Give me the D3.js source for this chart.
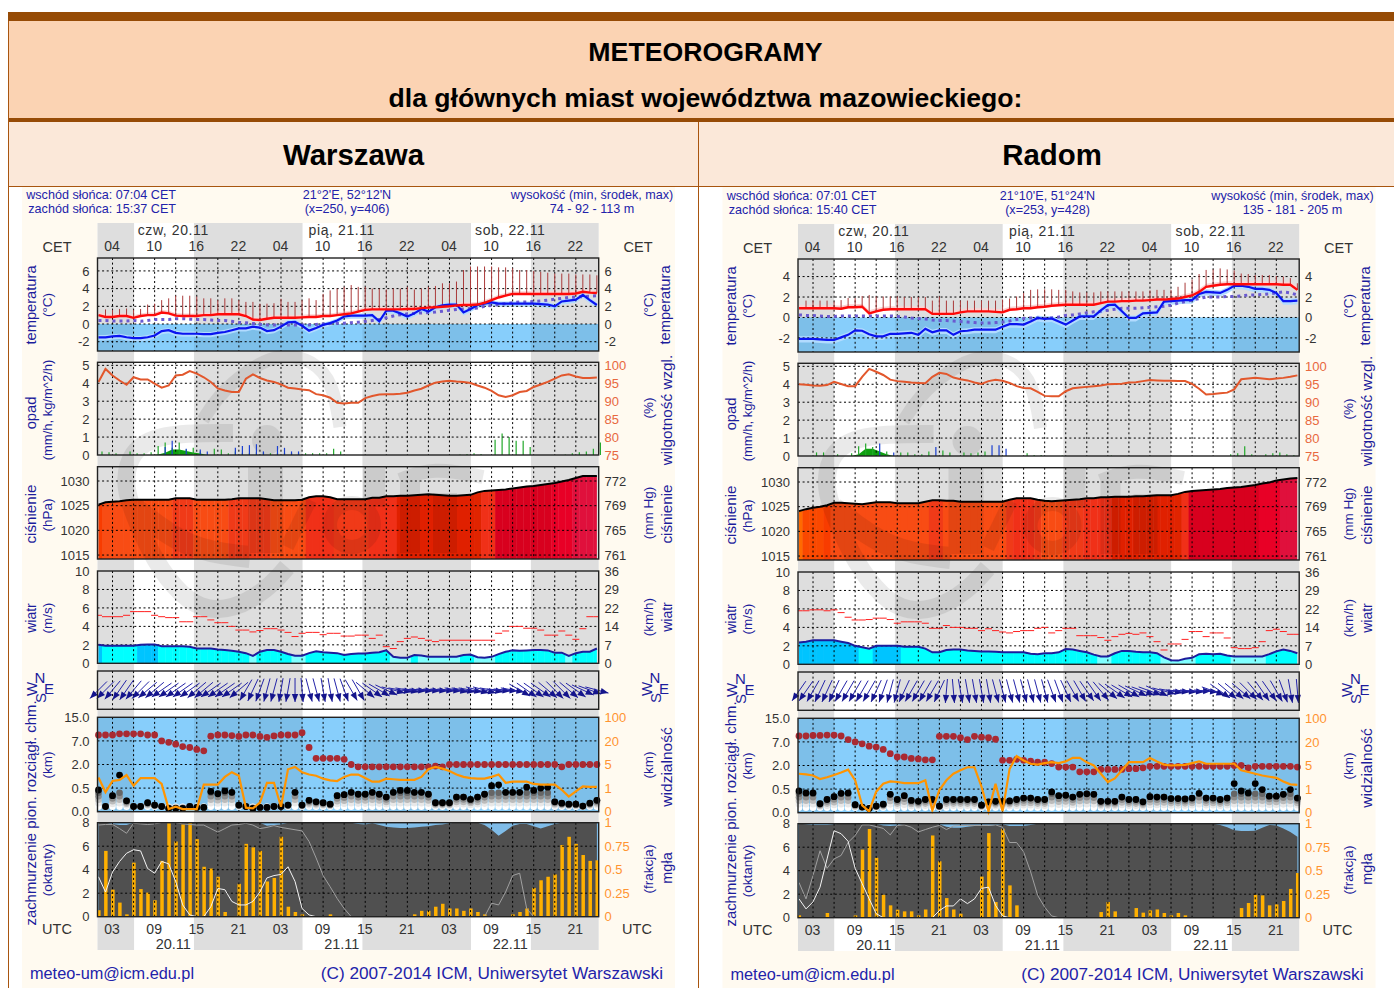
<!DOCTYPE html>
<html>
<head>
<meta charset="utf-8">
<title>Meteorogramy</title>
<script src="https://cdn.jsdelivr.net/npm/d3@7"></script>
<style>
html, body { margin: 0; padding: 0; background: #fff; overflow: hidden; }
svg { display: block; font-family: "Liberation Sans", Arial, sans-serif; }
</style>
</head>
<body>
<svg id="chart" width="1394" height="988"></svg>
<script>
// labels shared by both meteograms
const cetLabels = ['04', '10', '16', '22', '04', '10', '16', '22', '04', '10', '16', '22'];
const utcLabels = ['03', '09', '15', '21', '03', '09', '15', '21', '03', '09', '15', '21'];
const labelHours = [2, 8, 14, 20, 26, 32, 38, 44, 50, 56, 62, 68];
const gridHours = d3.range(2, 71, 3);
const dayLabels = ['czw, 20.11', 'pią, 21.11', 'sob, 22.11'];
const dateLabels = ['20.11', '21.11', '22.11'];
const dayHours = [10.8, 34.8, 58.8];
const rainTicks = [0, 1, 2, 3, 4, 5];
const rhLabels = [75, 80, 85, 90, 95, 100];
const pressTicks = [1015, 1020, 1025, 1030];
const mmHgLabels = [761, 765, 769, 772];
const windTicks = [0, 2, 4, 6, 8, 10];
const kmhLabels = [0, 7, 14, 22, 29, 36];
const ceilLevels = [0, 0.5, 2, 7, 15];
const visLevels = [0, 1, 5, 20, 100];
const cloudTicks = [0, 2, 4, 6, 8];
const fogLabels = ['0', '0.25', '0.5', '0.75', '1'];

// Warszawa, hourly values from 01 UTC 20.11
const warTemp = [1, .8, .8, .9, .9, .7, .9, 1, 1, 1.3, 1.2, .95,
    .9, .9, .9, 1, 1, 1.1, 1.1, 1.1, 1.1, .9, .5, .45,
    .6, .7, .7, .7, .7, .75, .8, .8, .9, .9, 1, 1.1,
    1.2, 1.4, 1.6, 1.65, 1.65, 1.65, 1.65, 1.65, 1.7, 1.7, 1.8, 1.85,
    1.9, 1.95, 2, 2.1, 2.15, 2.15, 2.2, 2.4, 2.7, 3, 3.2, 3.4,
    3.4, 3.4, 3.4, 3.4, 3.4, 3.4, 3.4, 3.4, 3.45, 3.65, 3.55, 3.5];
const warDew = [-1.5, -1.5, -1.4, -1.35, -1.5, -1.6, -1.6, -1.5, -1.3, -.8, -.7, -1,
    -1.1, -1.1, -1.1, -1.15, -1.15, -1, -.9, -.7, -.5, -.5, -.3, -.4,
    -.8, -.7, -.3, .2, .25, -.2, -.75, -.45, -.1, .1, .4, .85,
    .95, .95, .95, 1, .3, 1.5, 1.5, 1.2, .85, 1.2, 1.7, 1.4,
    1.9, 2.1, 2.2, 2.2, 1.3, 1.7, 2.15, 2.3, 2.45, 2.3, 2.3, 2.3,
    2.3, 2.3, 2.3, 2.25, 2.2, 2, 2.55, 2.65, 2.75, 3.3, 2.7, 2.15];
const warWet = [.4, .4, .35, .35, .35, .4, .3, .4, .5, .5, .5, .6,
    .6, .55, .5, .5, .45, .4, .4, .3, .2, .15, .05, -.05,
    -.1, -.1, -.1, -.1, -.1, -.1, -.1, -.05, 0, .05, .1, .1,
    .15, .2, .3, .4, .5, .7, .9, 1.05, 1.15, 1.2, 1.25, 1.3,
    1.35, 1.45, 1.55, 1.65, 1.7, 1.75, 1.8, 2, 2.1, 2.2, 2.3, 2.4,
    2.5, 2.5, 2.55, 2.6, 2.7, 2.8, 2.9, 3, 3.05, 3.1, 3.15, 3.2];
const warWhisker = [1, 1.65, 1.6, 1.7, 1.75, 1.6, 1.7, 2.2, 2.3, 2.7, 2.9, 3.2,
    3.2, 3.2, 3.1, 2.9, 2.9, 2.7, 2.9, 2.9, 2.7, 2.5, 2.5, 2.3,
    2.3, 2.35, 2.85, 2.5, 2.5, 2.7, 2.9, 2.7, 3.4, 3.8, 4, 4.2,
    4.4, 4.2, 4.2, 4, 4, 3.9, 4, 4, 4.2, 3.9, 4, 4.2,
    4.3, 4.6, 4.6, 4.8, 6.1, 6.5, 6.5, 6.5, 6.5, 6.4, 6.4, 6.3,
    6.1, 6.1, 6, 5.9, 5.8, 5.7, 5.7, 5.7, 5.6, 5.6, 5.6, 5.5];
const warRh = [95.3, 98.9, 97.1, 95.7, 94.5, 96.6, 96, 96, 94.8, 93.7, 94.3, 97.1,
    97.3, 98.3, 97.6, 96.6, 95.3, 93.5, 92.9, 92.5, 92.5, 96.2, 97.4, 96.4,
    95.7, 95.3, 94.6, 93.7, 93.5, 93.2, 93, 91.9, 91.6, 90.9, 89.5, 89.3,
    89.5, 89.5, 90.8, 91.4, 91.8, 91.9, 91.9, 92, 92.3, 92.9, 93.4, 94.3,
    95.1, 95.4, 95.6, 95.4, 95.3, 95, 94.3, 93.7, 92.8, 91.6, 91.1, 91.6,
    92.5, 92.8, 93.9, 94.6, 95.3, 96.2, 97.1, 97.4, 96.8, 96.4, 96.4, 96.5];
const warRainGreen = [.2, .15, .1, 0, .2, .1, .1, .15, .5, .7, .4, .7,
    .3, .4, .2, 0, .35, .3, .1, .2, .1, .1, .15, .15,
    .1, .1, .1, .1, .1, .1, .1, .1, .1, .35, .2, 0,
    0, 0, 0, 0, 0, 0, 0, 0, 0, 0, 0, 0,
    0, 0, 0, .03, .05, .1, .05, 0, .85, 1.2, 1, .8,
    .8, .45, 0, 0, 0, 0, .03, .1, .15, .2, .35, .7];
const warRainBlue = [0, 0, 0, 0, 0, 0, 0, 0, 0, .45, .8, 0,
    .35, 0, .3, .2, 0, 0, 0, .4, .5, .55, .6, .2,
    0, .5, .4, .2, .2, 0, 0, 0, 0, 0, 0, 0,
    0, 0, 0, 0, 0, 0, 0, 0, 0, 0, 0, 0,
    0, 0, 0, 0, 0, 0, 0, 0, 0, 0, 0, 0,
    0, 0, 0, 0, 0, 0, 0, 0, 0, 0, 0, 0];
const warSnow = [0, 0, 0, 0, 0, 0, 0, 0, .03, .12, .3, .3,
    .22, .14, .08, 0, 0, 0, 0, 0, 0, 0, 0, 0,
    0, 0, 0, 0, 0, 0, 0, 0, 0, 0, 0, 0,
    0, 0, 0, 0, 0, 0, 0, 0, 0, 0, 0, 0,
    0, 0, 0, 0, 0, 0, 0, 0, 0, 0, 0, 0,
    0, 0, 0, 0, 0, 0, 0, 0, 0, 0, 0, 0];
const warPress = [1025.2, 1025.7, 1025.8, 1025.9, 1026.1, 1026.2, 1026.2, 1026.2, 1026.2, 1026.2, 1026.2, 1026.5,
    1026.5, 1026.5, 1026.2, 1026.2, 1026.2, 1026.2, 1026.2, 1026.3, 1026.5, 1026.5, 1026.5, 1026.5,
    1026.3, 1026.1, 1026.1, 1026.1, 1026.1, 1026.2, 1026.7, 1026.9, 1026.9, 1026.7, 1026.3, 1026.3,
    1026.3, 1026.3, 1026.3, 1026.6, 1026.6, 1026.9, 1026.9, 1027, 1027, 1027.1, 1027.2, 1027.3,
    1027.2, 1027.1, 1027, 1027, 1027.1, 1027.2, 1027.7, 1028, 1028.1, 1028.2, 1028.3, 1028.5,
    1028.7, 1028.9, 1029, 1029.2, 1029.4, 1029.6, 1029.9, 1030.2, 1030.6, 1031, 1031, 1031];
const warWind = [2, 1.9, 1.9, 1.9, 1.9, 1.9, 2, 2.05, 2.05, 1.85, 1.85, 1.85,
    1.85, 1.8, 1.6, 1.6, 1.6, 1.5, 1.45, 1.35, 1.25, 1.1, .8, 1.25,
    1.45, 1.45, 1.25, 1, .83, .83, 1.1, 1.3, 1.2, 1.15, 1.1, .9,
    1, 1.05, 1.05, 1.15, 1.2, 1.4, .7, .6, .6, .9, .85, .7,
    .7, .7, .7, .7, .9, .95, .65, .6, .7, 1, 1.25, 1.4,
    1.35, 1.4, 1.45, 1.45, 1.4, 1.15, 1.15, .8, 1.1, 1.25, 1.25, 1.6];
const warGust = [5.2, 5.05, 5.05, 5.05, 5.2, 5.6, 5.6, 5.6, 5.2, 5.05, 4.95, 4.95,
    4.5, 4.5, 5.05, 5.05, 4.7, 4.4, 4.4, 4, 3.6, 3.6, 3.4, 3.55,
    3.75, 3.75, 3.6, 3.35, 2.9, 3.25, 3.35, 3.35, 3.1, 3.25, 3.25, 2.95,
    2.95, 3.05, 3.05, 2.7, 3.05, 1.8, 1.6, 2.35, 2.7, 2.85, 2.7, 2.5,
    2.35, 2.5, 2.5, 2.5, 2.5, 2.5, 2.5, 2.5, 2.5, 3.25, 3.5, 4,
    4, 3.8, 3.8, 3.6, 3.05, 3.05, 3.5, 3.05, 2.6, 3.75, 5.05, 5.05];
const warDir = [45, 45, 40, 35, 35, 40, 45, 50, 50, 55, 55, 55,
    55, 55, 50, 50, 55, 55, 55, 55, 50, 30, 25, 20,
    15, 15, 10, 10, 0, 355, 345, 345, 350, 350, 345, 340,
    330, 330, 310, 305, 300, 295, 285, 280, 280, 275, 275, 275,
    275, 275, 275, 280, 280, 280, 285, 285, 280, 275, 275, 280,
    300, 305, 305, 305, 310, 315, 315, 310, 305, 295, 290, 285];
const warTop = [9, 9, 9, 9.4, 9.4, 9.4, 9.4, 9, 9, 7, 6.7, 6.3,
    5.8, 5.6, 5.2, 4.9, 8.6, 9, 9, 8.8, 8.5, 9, 9, 8.5,
    8.2, 8.7, 9, 9, 9, 9.8, 5.6, 3.3, 3.3, 3.3, 3.3, 3.1,
    2, 1.85, 1.85, 1.85, 1.85, 1.85, 1.85, 1.85, 1.85, 1.85, 1.85, 1.85,
    1.9, 1.85, 2, 2, 2, 2, 2, 2, 2, 2, 2, 2,
    2, 2, 2, 2, 2, 2, 1.85, 2, 2, 2, 2, 2];
const warBase = [.46, .11, .34, 1.33, .23, .11, .11, .19, .14, .11, .07, .07,
    .07, .11, .09, .09, .43, .38, .44, .41, .14, .11, .07, .09,
    .09, .11, .11, .14, .41, .14, .24, .21, .19, .16, .34, .36,
    .41, .37, .37, .41, .37, .31, .41, .45, .45, .41, .41, .37,
    .19, .19, .19, .31, .31, .26, .31, .37, .65, .71, .41, .41,
    .41, .56, .45, .5, .56, .21, .18, .16, .16, .12, .18, .24];
const warVis = [2.8, .83, 2.2, 2.4, 3.2, 1.4, 2.7, 2.7, 2.7, 1.7, .11, .21,
    .11, .11, .11, 1.6, 1.6, 1.6, 2.9, 3.7, 3.1, .17, .14, .39,
    1.9, 1.9, .21, 4.2, 4.6, 3.7, 3.3, 3.1, 2.6, 2.3, 2.2, 2.9,
    3.3, 3.3, 2.7, 2.1, 2.1, 2.6, 2.5, 2.4, 2.4, 2.4, 2.9, 4.2,
    4.6, 4.3, 3.9, 3.3, 2.9, 2.7, 2.6, 2.6, 2.9, 3.3, 1.9, 2.1,
    2.1, 2.1, 1.7, 1.6, 1.6, 1.6, .93, .64, .86, 1.3, 1.2, 1.2];
const warCloud = [8, 8, 7.9, 7.8, 7.8, 8, 8, 8, 8, 8, 8, 8,
    8, 8, 8, 8, 8, 7.95, 8, 8, 8, 8, 8, 8,
    7.75, 7.8, 7.85, 8, 8, 8, 8, 8, 8, 8, 8, 8,
    8, 7.9, 7.85, 7.95, 7.8, 7.65, 7.6, 7.55, 7.55, 7.6, 7.65, 7.7,
    7.8, 7.85, 7.95, 8, 8, 8, 8, 7.8, 7.4, 6.9, 7.3, 7.75,
    7.9, 7.9, 7.7, 7.5, 7.7, 7.9, 8, 8, 8, 8, 8, 8];
const warMidCloud = [7.8, 7.85, 7.85, 7.5, 7.1, 7.95, 7.9, 7.85, 7.9, 8, 8, 8,
    7.9, 7.85, 7.8, 7.8, 7.5, 7.2, 7.5, 7.8, 7.85, 7.95, 7.8, 7.5,
    7.6, 7.75, 7.6, 7.5, 7.4, 7.3, 6.4, 5, 3.5, 2.55, 1.55, .7,
    0, 0, 0, 0, 0, 0, 0, 0, 0, 0, 0, 0,
    0, 0, 0, 0, 0, 0, 0, 0, 1.15, 1, 2.1, 3.5,
    3.7, .7, 0, 0, 0, 0, 0, 0, 0, 0, 0, 0];
const warLowCloud = [3.4, 2.1, 3.8, 4.7, 5.4, 5.7, 5.6, 4.1, 3.7, 4.7, 4.5, 3,
    1, .15, 0, 0, .85, 2.4, 2.3, 1.3, 1, 1, 1.3, 2.1,
    3.3, 3.5, 3.6, 4.25, 3, .7, .15, 0, 0, 0, 0, 0,
    0, 0, 0, 0, 0, 0, 0, 0, 0, 0, 0, 0,
    0, 0, 0, 0, 0, 0, 0, 0, 0, 0, 0, 0,
    0, 0, 0, 0, 0, 0, 0, 0, 0, 0, 0, 0];
const warFog = [.55, 5.6, 2.3, 1.2, .2, 4.6, 2.35, 2.05, 1.4, 4.75, 8, 6.4,
    7.85, 8, 6.6, 4.25, 4.1, 3.4, .4, 0, 2.8, 6.2, 5.9, 5.6,
    3, 3.3, 6.8, .85, .4, .2, 0, 0, 0, .2, 0, 0,
    0, 0, 0, 0, 0, 0, 0, 0, 0, .2, .5, .5,
    .85, 1.1, .7, .7, .5, .7, .4, .2, 0, 0, 0, .2,
    .4, .7, 2.45, 3.1, 3.4, 3.6, 6.1, 6.8, 6.2, 5.25, 4.75, 4.8];

// Radom, same hours
const radTemp = [.9, .9, .9, .9, .9, .9, .85, 1, 1, 1.05, .4, .6,
    .75, .8, .8, .8, .8, .8, .8, .35, .35, .35, .35, .5,
    .6, .6, .6, .6, .55, .5, .75, .8, .9, .9, 1, 1.05,
    1.15, 1.2, 1.25, 1.25, 1.25, 1.25, 1.25, 1.4, 1.55, 1.55, 1.6, 1.6,
    1.65, 1.65, 1.7, 1.75, 1.75, 1.8, 1.85, 2, 2.15, 2.5, 3, 3.1,
    3.2, 3.25, 3.25, 3.25, 3.25, 3.25, 3.25, 3.25, 3.25, 3.2, 3.2, 2.7];
const radDew = [-2.1, -2.1, -2.1, -2.15, -2.2, -2.2, -1.95, -1.7, -1.27, -1.3, -1.65, -1.85,
    -1.85, -1.6, -1.6, -1.55, -1.5, -1.7, -1.1, -1.45, -1.27, -1.27, -1.7, -1.35,
    -1.3, -1.2, -1.2, -1.2, -1.2, -.9, -.65, -.65, -.7, -.4, -.05, -.15,
    -.1, -.4, -.7, -.3, .1, .1, .1, .7, 1.2, 1.25, .6, -.05,
    -.05, .4, .45, .5, 1.55, 1.6, 1.65, 1.7, 1.7, 2.3, 2.5, 2.45,
    2.4, 2.7, 3.1, 3.1, 3, 2.8, 2.8, 2.7, 2.4, 1.6, 1.6, 1.65];
const radWet = [.25, .2, .2, .15, .1, .1, .15, .15, .15, .15, .15, .15,
    .15, .15, .1, .05, -.05, -.1, -.15, -.25, -.3, -.3, -.35, -.4,
    -.45, -.5, -.55, -.55, -.5, -.45, -.35, -.2, -.1, -.05, -.05, -.1,
    -.05, .05, .2, .25, .35, .45, .55, .6, .7, .8, .9, .9,
    .9, .95, 1, 1.05, 1.1, 1.2, 1.4, 1.55, 1.7, 1.85, 2, 2,
    2, 2.05, 2.05, 2.1, 2.2, 2.2, 2.25, 2.3, 2.4, 2.5, 2.4, 2.2];
const radWhisker = [.9, 1.65, 1.65, 1.65, 1.65, 1.55, 1.7, 1.9, 1.9, 2.1, 2.2, 2.05,
    2.05, 2.05, 2.05, 2, 2, 2, 2, 1.65, 2.05, 1.65, 1.65, 1.65,
    1.65, 1.65, 1.65, 1.65, 1.65, 1.75, 1.85, 2.05, 2.4, 2.7, 2.75, 2.75,
    2.75, 2.7, 2.7, 2.55, 2.45, 2.45, 2.45, 2.55, 2.55, 2.55, 2.55, 2.55,
    2.55, 2.55, 2.65, 2.7, 2.7, 2.7, 3, 3.4, 3.7, 4.25, 4.65, 4.7,
    4.8, 4.7, 4.6, 4.3, 4.25, 4.15, 4.15, 4.15, 4.05, 4, 3.85, 3.35];
const radRh = [94.9, 94.8, 94.6, 94.5, 94.7, 95.6, 95, 94.4, 94.4, 97, 99.2, 98.4,
    97.5, 96.2, 95.8, 95.6, 95.4, 95.3, 95.2, 97, 98.1, 97.8, 96.8, 96.3,
    96, 95.4, 95, 95.8, 96.2, 95.9, 95.3, 94.4, 93.9, 93.8, 92.8, 91.7,
    91.6, 91.6, 93, 93.8, 94, 94.2, 94.4, 94.6, 94.9, 95, 95.1, 95.4,
    95.5, 95.8, 96.1, 96, 95.9, 95.9, 95.8, 95.8, 95, 93.7, 92.1, 92.2,
    92.4, 92.6, 93.5, 96.3, 96.5, 96.7, 96.5, 96.3, 96.5, 96.7, 97, 97.4];
const radRainGreen = [0, 0, .2, .2, 0, .1, 0, .15, .55, .7, .5, 0,
    .25, 0, .2, .2, .1, .1, .25, 0, .3, .2, 0, .2,
    .15, .2, .25, 0, 0, 0, 0, 0, .15, .05, .05, 0,
    0, .03, 0, 0, 0, 0, 0, 0, .03, 0, 0, 0,
    0, 0, 0, 0, 0, 0, 0, 0, 0, 0, 0, 0,
    0, .1, .15, .55, .1, 0, .1, .15, .2, .1, .05, 0];
const radRainBlue = [0, 0, 0, 0, 0, 0, 0, 0, 0, 0, 0, .7,
    0, .2, 0, 0, 0, 0, 0, .5, 0, 0, 0, 0,
    0, 0, 0, .6, .6, .4, 0, 0, 0, 0, 0, 0,
    0, 0, 0, 0, 0, 0, 0, 0, 0, 0, 0, 0,
    0, 0, 0, 0, 0, 0, 0, 0, 0, 0, 0, 0,
    0, 0, 0, 0, 0, 0, 0, 0, 0, 0, 0, 0];
const radSnow = [0, 0, 0, 0, 0, 0, 0, 0, .1, .4, .4, .25,
    .1, 0, 0, 0, 0, 0, 0, 0, 0, 0, 0, 0,
    0, 0, 0, 0, 0, 0, 0, 0, 0, 0, 0, 0,
    0, 0, 0, 0, 0, 0, 0, 0, 0, 0, 0, 0,
    0, 0, 0, 0, 0, 0, 0, 0, 0, 0, 0, 0,
    0, 0, 0, 0, 0, 0, 0, 0, 0, 0, 0, 0];
const radPress = [1024.1, 1024.5, 1024.8, 1025, 1025.3, 1025.8, 1025.8, 1025.7, 1025.6, 1025.5, 1025.7, 1025.9,
    1025.9, 1025.9, 1025.7, 1025.7, 1025.7, 1025.7, 1026, 1026.3, 1026.3, 1026.2, 1026.2, 1026,
    1026, 1026, 1026, 1026, 1026, 1026, 1026.4, 1026.7, 1026.7, 1026.7, 1026.4, 1026.2,
    1026.1, 1026.2, 1026.3, 1026.4, 1026.5, 1026.7, 1026.7, 1026.9, 1026.9, 1027, 1027, 1027,
    1027.1, 1027.1, 1027.2, 1027.3, 1027.3, 1027.3, 1027.6, 1028, 1028.2, 1028.3, 1028.4, 1028.5,
    1028.6, 1028.8, 1028.9, 1029, 1029.2, 1029.4, 1029.7, 1029.9, 1030.3, 1030.5, 1030.7, 1030.8];
const radWind = [2.35, 2.45, 2.6, 2.6, 2.6, 2.6, 2.45, 2.3, 2, 1.85, 1.7, 2,
    2, 2, 2, 1.9, 1.9, 1.9, 1.7, 1.3, 1.3, 1.55, 1.6, 1.6,
    1.5, 1.45, 1.4, 1.4, 1.35, 1.3, 1.3, 1.3, 1.3, 1.15, 1.1, 1.2,
    1.2, 1.3, 1.65, 1.6, 1.45, 1.3, 1.05, .85, .85, 1.2, 1.45, 1.45,
    1.35, 1.3, 1.3, 1.2, .75, .45, .4, .6, .7, 1.1, 1.15, 1.1,
    1.15, .95, .85, .85, .85, .85, .85, 1.1, 1.4, 1.6, 1.45, 1.2];
const radGust = [5.8, 5.8, 5.9, 5.9, 5.8, 5.9, 5.6, 5.1, 4.8, 4.8, 4.85, 5,
    5, 4.85, 4.45, 4.6, 4.6, 4.6, 4.45, 3.9, 3.9, 4.2, 4, 4,
    3.9, 3.9, 3.65, 3.85, 3.65, 3.5, 3.4, 3.55, 3.65, 3.65, 3.9, 4,
    3.4, 3.65, 3.9, 3.9, 3.1, 3.1, 3.1, 2.9, 2.6, 3, 3.25, 3.35,
    3.25, 3.4, 3, 2.45, 1.55, 2.2, 2.2, 2.7, 3.55, 3.55, 3, 3.4,
    3.4, 2.85, 1.8, 1.7, 1.7, 1.8, 2.45, 3.65, 3.8, 3.55, 3.25, 3.25];
const radDir = [35, 35, 30, 25, 25, 25, 30, 30, 30, 30, 30, 25,
    20, 15, 15, 25, 30, 30, 30, 30, 25, 5, 355, 350,
    350, 350, 350, 350, 345, 345, 345, 345, 345, 345, 345, 345,
    340, 340, 335, 330, 330, 325, 325, 320, 310, 305, 300, 300,
    295, 290, 290, 295, 285, 280, 275, 275, 275, 270, 275, 290,
    305, 310, 310, 310, 315, 320, 325, 325, 330, 340, 350, 355];
const radTop = [9, 9, 9.2, 9.2, 9.3, 9.3, 9, 7.8, 7, 6.6, 6.1, 5.9,
    5.4, 4.5, 3.8, 3.8, 3.5, 3.4, 3.2, 3.2, 8.9, 8.9, 8.9, 8.4,
    7.8, 8.9, 8.6, 8.4, 7.9, 3.1, 3.1, 3.3, 3.1, 2.9, 2.7, 2.7,
    2.4, 1.9, 1.9, 1.9, 1.6, 1.6, 1.6, 1.75, 1.75, 1.75, 1.75, 1.8,
    1.8, 1.85, 1.95, 1.95, 1.95, 1.95, 1.95, 1.95, 1.95, 1.95, 1.95, 1.95,
    1.95, 1.95, 2, 2, 1.85, 1.95, 1.95, 1.95, 1.95, 1.95, 1.95, 1.9];
const radBase = [.46, .42, .42, .19, .28, .34, .41, .42, .17, .12, .09, .14,
    .18, .39, .28, .36, .26, .24, .28, .28, .14, .28, .28, .28,
    .28, .28, .16, .23, .24, .24, .25, .28, .31, .31, .28, .28,
    .44, .36, .37, .33, .39, .4, .39, .24, .24, .24, .33, .28,
    .28, .23, .34, .33, .33, .3, .3, .29, .31, .41, .31, .31,
    .28, .31, .85, .46, .42, .85, .49, .35, .35, .39, .49, .31];
const radVis = [3.6, 3.5, 3.3, 2.7, 3, 3.4, 3.8, 4.3, 2.5, .31, .06, .89,
    1.9, 2.3, 2.2, 2, 2, 2, 2.5, .1, .96, 2.5, 3.6, 4.2,
    4.7, 4.7, 1.4, .06, 1.9, .06, 4.4, 11, 8.2, 6.1, 5.6, 6.5,
    7.1, 6.5, 7.6, 9.9, 9.9, 7, 5, 3.6, 2.2, 2.8, 4.2, 7.1,
    7.1, 7.1, 9.7, 7.5, 5.6, 5, 5.2, 5.4, 6.5, 7.6, 6.1, 6.1,
    6.1, 6.1, 6.1, 4.2, 3.9, 3.6, 3.3, 3.1, 2.9, 2.3, 1.8, 1.7];
const radCloud = [8, 7.95, 7.9, 7.9, 7.9, 7.95, 8, 8, 8, 8, 8, 8,
    7.85, 7.8, 7.85, 8, 8, 8, 8, 8, 7.95, 7.75, 7.65, 7.65,
    7.75, 7.8, 7.8, 7.8, 7.9, 7.95, 7.8, 7.8, 7.8, 7.9, 8, 8,
    8, 8, 8, 8, 8, 8, 8, 8, 8, 8, 8, 8,
    8, 8, 8, 8, 8, 8, 8, 8, 8, 8, 8, 8,
    7.9, 7.7, 7.45, 7.38, 7.38, 7.4, 7.65, 7.9, 7.85, 7.6, 7.3, 6.9];
const radMidCloud = [3, 1.6, 3.6, 5.7, 4.2, 5, 5.3, 6.4, 7, 7.9, 7.9, 7.75,
    7.6, 7.05, 7.85, 7.9, 7.7, 7.3, 7.5, 7.7, 7.85, 7.5, 7.8, 7.85,
    7.85, 7.85, 7.85, 7.85, 7.9, 7.7, 6.4, 6.4, 5.6, 3.9, 1.9, .9,
    .15, 0, 0, 0, 0, 0, 0, 0, 0, 0, 0, 0,
    0, 0, 0, 0, 0, 0, 0, 0, 0, 0, 0, 0,
    0, 0, 0, 0, 0, 0, 0, 0, 0, 0, 0, 0];
const radLowCloud = [1.6, .75, 1.35, 2.6, 5, 7.4, 7.15, 6.5, 4.2, 2.9, 1.6, .35,
    0, 0, 0, 0, 0, 0, 0, 0, .6, 1, 1, 1.6,
    1.2, 1.6, 2.5, 2.6, 1.05, .15, 0, 0, 0, 0, 0, 0,
    0, 0, 0, 0, 0, 0, 0, 0, 0, 0, 0, 0,
    0, 0, 0, 0, 0, 0, 0, 0, 0, 0, 0, 0,
    0, 0, 0, 0, 0, 0, 0, 0, 0, 0, 0, 0];
const radFog = [.2, 0, 0, 0, .4, 0, 0, 0, .2, 5.8, 7.55, 5.1,
    1.95, 1.05, .68, .54, .54, .2, .7, 7, 4.8, 1.67, .7, .34,
    0, 0, 3.5, 7.2, 1.33, 7.57, 2.75, 1.05, 0, 0, 0, 0,
    0, 0, 0, 0, 0, 0, 0, .48, 1.33, .54, 0, 0,
    .82, .43, .62, .7, .4, .2, .4, .2, 0, 0, 0, 0,
    0, 0, 0, .82, 1.25, 1.95, 1.9, 1.05, 1.13, 1.42, 2.45, 3.8];

const cities = [
    {
        id: 'war', name: 'Warszawa', nameX: 353.5, dx: 0, dy: 0,
        sun: ['wschód słońca: 07:04 CET', 'zachód słońca: 15:37 CET'],
        place: ['21°2\'E, 52°12\'N', '(x=250,  y=406)'],
        height: ['wysokość (min, środek, max)', '74 - 92 - 113 m'],
        sunrise: [5.07, 29.07, 53.07], sunset: [13.6, 37.6, 61.6],
        tempDomain: [-3.05, 7.46], tempTicks: [-2, 0, 2, 4, 6],
        temp: warTemp, dew: warDew, wet: warWet, whisker: warWhisker, rh: warRh,
        rainGreen: warRainGreen, rainBlue: warRainBlue, snow: warSnow, press: warPress,
        wind: warWind, gust: warGust, dir: warDir, top: warTop, base: warBase, vis: warVis,
        cloud: warCloud, midCloud: warMidCloud, lowCloud: warLowCloud, fog: warFog
    },
    {
        id: 'rad', name: 'Radom', nameX: 351.5, dx: 700.5, dy: 1,
        sun: ['wschód słońca: 07:01 CET', 'zachód słońca: 15:40 CET'],
        place: ['21°10\'E, 51°24\'N', '(x=253,  y=428)'],
        height: ['wysokość (min, środek, max)', '135 - 181 - 205 m'],
        sunrise: [5.02, 29.02, 53.02], sunset: [13.67, 37.67, 61.67],
        tempDomain: [-3.38, 5.72], tempTicks: [-2, 0, 2, 4],
        temp: radTemp, dew: radDew, wet: radWet, whisker: radWhisker, rh: radRh,
        rainGreen: radRainGreen, rainBlue: radRainBlue, snow: radSnow, press: radPress,
        wind: radWind, gust: radGust, dir: radDir, top: radTop, base: radBase, vis: radVis,
        cloud: radCloud, midCloud: radMidCloud, lowCloud: radLowCloud, fog: radFog
    }
];

// layout
const plotLeft = 97.5, plotRight = 598.7;
const panels = {
    temp: [258, 351], rain: [362.3, 455], press: [466.7, 559], wind: [571, 663.3],
    dir: [671, 709.3], vis: [717.3, 811.7], cloud: [822.7, 916.7]
};
const bandTop = 223, bandBottom = 950;
const navy = '#1c1c9c', tickColor = '#333';

const x = d3.scaleLinear().domain([-0.14, 71.26]).range([plotLeft, plotRight]);
const rainY = d3.scaleLinear().domain([0, 5.17]).range([455, 362.3]);
const rhY = d3.scaleLinear().domain([75, 100]).range([455, 365]);
const pressY = d3.scaleLinear().domain([1014.2, 1032.9]).range([559, 466.7]);
const windY = d3.scaleLinear().domain([0, 10]).range([663.3, 571]);
const levelRange = d3.range(5).map(i => 811.7 - i * 23.6);
const ceilY = d3.scaleLinear().domain(ceilLevels).range(levelRange);
const visY = d3.scaleLinear().domain(visLevels).range(levelRange);
const cloudY = d3.scaleLinear().domain([0, 8]).range([916.7, 822.7]);

const pressColor = d3.scaleThreshold()
    .domain([1024.3, 1025.1, 1025.5, 1026.25, 1026.6, 1027, 1027.4, 1027.9, 1028.15, 1029.5, 1030.5])
    .range(['#ff6a00', '#fa4800', '#f83c00', '#f84c14', '#f03a18', '#f03018', '#e02000', '#e02400', '#f03018', '#d8001e', '#e80026', '#e0103c']);
const windColor = d3.scaleThreshold()
    .domain([0.9, 1.98])
    .range(['#7fffff', '#00ffff', '#00c4ff']);

const svg = d3.select('#chart');

drawPage();
cities.forEach(drawCity);

function drawPage(){
    svg.append('rect').attr('x', 8).attr('y', 12).attr('width', 1386).attr('height', 9).attr('fill', '#964b06');
    svg.append('rect').attr('x', 8).attr('y', 21).attr('width', 1386).attr('height', 97).attr('fill', '#fbd3b3');
    svg.append('rect').attr('x', 8).attr('y', 118).attr('width', 1386).attr('height', 4).attr('fill', '#964b06');
    svg.append('rect').attr('x', 8).attr('y', 122).attr('width', 1386).attr('height', 64).attr('fill', '#fbe8d9');
    svg.append('rect').attr('x', 8).attr('y', 186).attr('width', 1386).attr('height', 1).attr('fill', '#a8550f');
    svg.append('rect').attr('x', 8).attr('y', 21).attr('width', 1).attr('height', 967).attr('fill', '#a8550f');
    svg.append('rect').attr('x', 698).attr('y', 122).attr('width', 1).attr('height', 866).attr('fill', '#a8550f');

    svg.append('text').attr('x', 705.5).attr('y', 61).attr('text-anchor', 'middle')
        .attr('font-size', 26.7).attr('font-weight', 'bold').text('METEOROGRAMY');
    svg.append('text').attr('x', 705.5).attr('y', 107).attr('text-anchor', 'middle')
        .attr('font-size', 26.6).attr('font-weight', 'bold').text('dla głównych miast województwa mazowieckiego:');
}

function drawCity(city){
    const g = svg.append('g').attr('transform', 'translate(' + city.dx + ',' + city.dy + ')');
    const tempY = d3.scaleLinear().domain(city.tempDomain).range([panels.temp[1], panels.temp[0]]);

    g.append('text').attr('x', city.nameX).attr('y', 165 - city.dy).attr('text-anchor', 'middle')
        .attr('font-size', 29.4).attr('font-weight', 'bold').text(city.name);

    // cream picture and day / night columns
    g.append('rect').attr('x', 22).attr('y', 187 - city.dy).attr('width', 653).attr('height', 802).attr('fill', '#fffaf0');
    g.append('rect').attr('x', plotLeft).attr('y', bandTop).attr('width', plotRight - plotLeft)
        .attr('height', bandBottom - bandTop).attr('fill', '#fff');
    const nights = [[-0.14, city.sunrise[0]], [city.sunset[0], city.sunrise[1]],
        [city.sunset[1], city.sunrise[2]], [city.sunset[2], 71.26]];
    g.selectAll('.night').data(nights).enter().append('rect')
        .attr('class', 'night')
        .attr('x', d => x(d[0]))
        .attr('y', bandTop)
        .attr('width', d => x(d[1]) - x(d[0]))
        .attr('height', bandBottom - bandTop)
        .attr('fill', '#dedede');

    const hours = d3.range(72);
    const clip = (name, area) => {
        g.append('clipPath').attr('id', city.id + name).append('path').attr('d', area);
        return 'url(#' + city.id + name + ')';
    };
    // sky blue with the night columns still a little darker
    const skyBlock = (top, bottom) => {
        g.append('rect').attr('x', plotLeft).attr('y', top).attr('width', plotRight - plotLeft)
            .attr('height', bottom - top).attr('fill', '#87cefb');
        nights.forEach(d => {
            g.append('rect').attr('x', x(d[0])).attr('y', top).attr('width', x(d[1]) - x(d[0]))
                .attr('height', bottom - top).attr('fill', '#000').attr('opacity', 0.07);
        });
    };

    // fills under the watermark
    skyBlock(tempY(0), panels.temp[1]);

    const pressArea = d3.area().x(i => x(i)).y0(panels.press[1]).y1(i => pressY(city.press[i]));
    g.append('g').attr('clip-path', clip('press', pressArea(hours)))
        .selectAll('rect').data(hours).enter().append('rect')
        .attr('x', i => x(i - 0.5))
        .attr('y', panels.press[0])
        .attr('width', x(1) - x(0) + 0.4)
        .attr('height', panels.press[1] - panels.press[0])
        .attr('fill', i => pressColor(city.press[i]));

    const windArea = d3.area().x(i => x(i)).y0(panels.wind[1]).y1(i => windY(city.wind[i]));
    g.append('g').attr('clip-path', clip('wind', windArea(hours)))
        .selectAll('rect').data(hours).enter().append('rect')
        .attr('x', i => x(i - 0.5))
        .attr('y', panels.wind[0])
        .attr('width', x(1) - x(0) + 0.4)
        .attr('height', panels.wind[1] - panels.wind[0])
        .attr('fill', i => windColor(city.wind[i]));

    skyBlock(panels.vis[0], panels.vis[1]);
    g.append('rect').attr('x', plotLeft).attr('y', panels.cloud[0]).attr('width', plotRight - plotLeft)
        .attr('height', panels.cloud[1] - panels.cloud[0]).attr('fill', '#7fbce8');
    const cloudArea = d3.area().x(i => x(i)).y0(panels.cloud[1]).y1(i => cloudY(city.cloud[i]));
    g.append('path').attr('d', cloudArea(hours)).attr('fill', '#505050');

    drawWatermark(g);

    // thin spread around temperature and dew point
    const spread = d3.area().x(i => x(i));
    g.append('path').attr('fill', '#fbd3d3')
        .attr('d', spread.y0(i => tempY(city.temp[i] - 0.1)).y1(i => tempY(city.temp[i] + 0.3))(hours));
    g.append('path').attr('fill', '#b2dbff')
        .attr('d', spread.y0(i => tempY(city.dew[i] - 0.35)).y1(i => tempY(city.dew[i] + 0.25))(hours));

    // bars go below the grid, the dotted lines show through them
    g.append('path').attr('fill', '#0fa010')
        .attr('d', d3.area().x(i => x(i + 0.5)).y0(rainY(0)).y1(i => rainY(city.snow[i]))(hours));
    g.selectAll('.rain-green').data(hours.filter(i => city.rainGreen[i] > 0)).enter().append('line')
        .attr('class', 'rain-green')
        .attr('x1', i => x(i + 0.5)).attr('x2', i => x(i + 0.5))
        .attr('y1', rainY(0)).attr('y2', i => rainY(city.rainGreen[i]))
        .attr('stroke', '#22a82a').attr('stroke-width', 1.2);
    g.selectAll('.rain-blue').data(hours.filter(i => city.rainBlue[i] > 0)).enter().append('line')
        .attr('class', 'rain-blue')
        .attr('x1', i => x(i + 0.5)).attr('x2', i => x(i + 0.5))
        .attr('y1', rainY(0)).attr('y2', i => rainY(city.rainBlue[i]))
        .attr('stroke', '#1a3fd0').attr('stroke-width', 1.2);

    g.selectAll('.fog').data(hours.filter(i => city.fog[i] > 0)).enter().append('rect')
        .attr('class', 'fog')
        .attr('x', i => x(i) - 1.4)
        .attr('y', i => cloudY(city.fog[i]))
        .attr('width', 3.5)
        .attr('height', i => cloudY(0) - cloudY(city.fog[i]))
        .attr('fill', '#ffb000');

    // grid
    drawGrid(g, panels.temp, city.tempTicks.map(tempY));
    drawGrid(g, panels.rain, rainTicks.slice(1).map(rainY));
    drawGrid(g, panels.press, pressTicks.map(pressY));
    drawGrid(g, panels.wind, windTicks.slice(1, 5).map(windY));
    drawGrid(g, panels.dir, []);
    drawGrid(g, panels.vis, ceilLevels.slice(1, 4).map(ceilY));
    drawGrid(g, panels.cloud, cloudTicks.slice(1, 4).map(cloudY));

    // temperature
    const lineOf = (values, scale) => d3.line().x(i => x(i)).y(i => scale(values[i]))(hours);
    g.selectAll('.whisker').data(hours.slice(1)).enter().append('line')
        .attr('class', 'whisker')
        .attr('x1', i => x(i)).attr('x2', i => x(i))
        .attr('y1', i => tempY(city.temp[i]))
        .attr('y2', i => tempY(city.whisker[i]))
        .attr('stroke', '#aa3a3a');
    g.append('path').attr('d', lineOf(city.wet, tempY)).attr('fill', 'none')
        .attr('stroke', '#6a5ad0').attr('stroke-width', 3).attr('stroke-dasharray', '3 4');
    g.append('path').attr('d', lineOf(city.dew, tempY)).attr('fill', 'none')
        .attr('stroke', '#0a14f0').attr('stroke-width', 2.2);
    g.append('path').attr('d', lineOf(city.temp, tempY)).attr('fill', 'none')
        .attr('stroke', '#ff0a0a').attr('stroke-width', 2.4);

    // humidity, pressure, wind
    g.append('path').attr('d', lineOf(city.rh, rhY)).attr('fill', 'none')
        .attr('stroke', '#e2572c').attr('stroke-width', 2);
    g.append('path').attr('d', lineOf(city.press, pressY)).attr('fill', 'none')
        .attr('stroke', '#000').attr('stroke-width', 2);
    g.selectAll('.gust').data(hours).enter().append('line')
        .attr('class', 'gust')
        .attr('x1', i => Math.max(x(i - 0.5), plotLeft))
        .attr('x2', i => Math.min(x(i + 0.5), plotRight))
        .attr('y1', i => windY(city.gust[i]))
        .attr('y2', i => windY(city.gust[i]))
        .attr('stroke', '#ff2020').attr('stroke-width', 1);
    g.append('path').attr('d', lineOf(city.wind, windY)).attr('fill', 'none')
        .attr('stroke', navy).attr('stroke-width', 2);

    // wind direction, tail points where the wind comes from
    const dirMid = 690, dirLength = 24;
    const arrows = g.selectAll('.arrow').data(hours).enter().append('g').attr('class', 'arrow');
    arrows.append('line')
        .attr('x1', i => x(i) + Math.sin(city.dir[i] * Math.PI / 180) * dirLength / 2)
        .attr('y1', i => dirMid - Math.cos(city.dir[i] * Math.PI / 180) * dirLength / 2)
        .attr('x2', i => x(i) - Math.sin(city.dir[i] * Math.PI / 180) * dirLength / 2)
        .attr('y2', i => dirMid + Math.cos(city.dir[i] * Math.PI / 180) * dirLength / 2)
        .attr('stroke', '#2424a8').attr('stroke-width', 1);
    arrows.append('path')
        .attr('fill', '#14148c')
        .attr('d', i => {
            const a = city.dir[i] * Math.PI / 180;
            const tipX = x(i) - Math.sin(a) * dirLength / 2, tipY = dirMid + Math.cos(a) * dirLength / 2;
            const backX = tipX + Math.sin(a) * 8, backY = tipY - Math.cos(a) * 8;
            const sideX = Math.cos(a) * 3.2, sideY = Math.sin(a) * 3.2;
            return 'M' + tipX + ',' + tipY + 'L' + (backX + sideX) + ',' + (backY + sideY) + 'L' + (backX - sideX) + ',' + (backY - sideY) + 'Z';
        });

    // cloud base with its fading trail, cloud top, visibility
    const trailShades = ['#ffffff', '#e8e8e8', '#bbbbbb', '#8c8c8c', '#666666'];
    hours.forEach(i => {
        const baseY = ceilY(city.base[i]);
        const lowest = panels.vis[1] - 5;
        const rise = Math.min(lowest - baseY, 14);
        g.selectAll(null).data(trailShades).enter().append('circle')
            .attr('cx', x(i))
            .attr('cy', (d, k) => lowest - rise * k / 4)
            .attr('r', 3.3)
            .attr('fill', d => d);
    });
    g.selectAll('.base').data(hours).enter().append('circle')
        .attr('class', 'base')
        .attr('cx', i => x(i)).attr('cy', i => ceilY(city.base[i])).attr('r', 3.4).attr('fill', '#000');
    g.selectAll('.top').data(hours).enter().append('circle')
        .attr('class', 'top')
        .attr('cx', i => x(i)).attr('cy', i => ceilY(city.top[i])).attr('r', 3.4).attr('fill', '#a92a32');
    g.append('path').attr('d', lineOf(city.vis, visY)).attr('fill', 'none')
        .attr('stroke', '#ff9400').attr('stroke-width', 2.2);

    g.append('path').attr('d', lineOf(city.midCloud, cloudY)).attr('fill', 'none').attr('stroke', '#a0a0a0');
    g.append('path').attr('d', lineOf(city.lowCloud, cloudY)).attr('fill', 'none').attr('stroke', '#f4f4f4');

    // frames
    Object.values(panels).forEach(p => {
        g.append('rect').attr('x', plotLeft).attr('y', p[0]).attr('width', plotRight - plotLeft)
            .attr('height', p[1] - p[0]).attr('fill', 'none').attr('stroke', '#222').attr('stroke-width', 1.4);
    });

    drawAxes(g, city, tempY);
    drawTexts(g, city);
}

function drawGrid(g, panel, ys){
    gridHours.forEach(h => {
        g.append('line').attr('x1', x(h)).attr('x2', x(h)).attr('y1', panel[0]).attr('y2', panel[1])
            .attr('stroke', '#000').attr('stroke-dasharray', '2 2.6');
    });
    ys.forEach(y => {
        g.append('line').attr('x1', plotLeft).attr('x2', plotRight).attr('y1', y).attr('y2', y)
            .attr('stroke', '#000').attr('stroke-dasharray', '2 2.6');
    });
}

function styleAxis(sel, color, size){
    sel.select('.domain').remove();
    sel.attr('font-size', size || 13).attr('font-family', '"Liberation Sans", Arial, sans-serif');
    sel.selectAll('text').attr('fill', color);
}

function drawAxes(g, city, tempY){
    const plain = d => String(d);
    const sideAxes = [
        [d3.axisLeft(tempY).tickValues(city.tempTicks).tickFormat(plain), tickColor],
        [d3.axisRight(tempY).tickValues(city.tempTicks).tickFormat(plain), tickColor],
        [d3.axisLeft(rainY).tickValues(rainTicks).tickFormat(plain), tickColor],
        [d3.axisRight(rhY).tickValues(rhLabels).tickFormat(plain), '#e8683e'],
        [d3.axisLeft(pressY).tickValues(pressTicks).tickFormat(plain), tickColor],
        [d3.axisRight(pressY).tickValues(pressTicks).tickFormat((d, i) => mmHgLabels[i]), tickColor],
        [d3.axisLeft(windY).tickValues(windTicks).tickFormat(plain), tickColor],
        [d3.axisRight(windY).tickValues(windTicks).tickFormat((d, i) => kmhLabels[i]), tickColor],
        [d3.axisLeft(ceilY).tickValues(ceilLevels).tickFormat(d3.format('.1f')), tickColor],
        [d3.axisRight(visY).tickValues(visLevels).tickFormat(plain), '#ff9430'],
        [d3.axisLeft(cloudY).tickValues(cloudTicks).tickFormat(plain), tickColor],
        [d3.axisRight(cloudY).tickValues(cloudTicks).tickFormat((d, i) => fogLabels[i]), '#ff9430']
    ];
    sideAxes.forEach(([axis, color], k) => {
        const left = k % 2 === 0;
        g.append('g')
            .attr('transform', 'translate(' + (left ? 89.5 : 604.5) + ',0)')
            .call(axis.tickSize(0).tickPadding(0))
            .call(sel => styleAxis(sel, color));
    });

    g.append('g').attr('transform', 'translate(-1,255)')
        .call(d3.axisTop(x).tickValues(labelHours).tickSize(0).tickPadding(4).tickFormat((d, i) => cetLabels[i]))
        .call(sel => styleAxis(sel, tickColor, 14));
    g.append('g').attr('transform', 'translate(-1,921)')
        .call(d3.axisBottom(x).tickValues(labelHours).tickSize(0).tickPadding(3).tickFormat((d, i) => utcLabels[i]))
        .call(sel => styleAxis(sel, tickColor, 14));
}

function label(g, px, py, text, opts){
    const o = opts || {};
    g.append('text')
        .attr('transform', 'translate(' + px + ',' + py + ')' + (o.rotate ? 'rotate(' + o.rotate + ')' : ''))
        .attr('text-anchor', o.anchor || 'middle')
        .attr('font-size', o.size || 13)
        .attr('letter-spacing', o.spacing || null)
        .attr('fill', o.color || navy)
        .text(text);
}

function drawTexts(g, city){
    const blue = '#2222aa';
    label(g, 176, 199, city.sun[0], {anchor: 'end', size: 12.6, color: blue});
    label(g, 176, 213, city.sun[1], {anchor: 'end', size: 12.6, color: blue});
    label(g, 347, 199, city.place[0], {size: 12.6, color: blue});
    label(g, 347, 213, city.place[1], {size: 12.6, color: blue});
    label(g, 592, 199, city.height[0], {size: 12.6, color: blue});
    label(g, 592, 213, city.height[1], {size: 12.6, color: blue});

    dayLabels.forEach((d, i) => label(g, x(dayHours[i]) - 1, 235, d, {color: tickColor, size: 14, spacing: 0.6}));
    dateLabels.forEach((d, i) => label(g, x(dayHours[i]) - 1, 949, d, {color: tickColor, size: 14.5}));
    label(g, 57, 252, 'CET', {color: tickColor, size: 14.5});
    label(g, 638, 252, 'CET', {color: tickColor, size: 14.5});
    label(g, 57, 934, 'UTC', {color: tickColor, size: 14.5});
    label(g, 637, 934, 'UTC', {color: tickColor, size: 14.5});

    const titles = [
        [31, 305, 'temperatura', 14.7], [47, 305, '(°C)', 13.5],
        [31, 413, 'opad', 14.7], [47, 410, '(mm/h, kg/m^2/h)', 13],
        [31, 514, 'ciśnienie', 15.2], [47, 515, '(hPa)', 13.5],
        [31, 618, 'wiatr', 14], [47, 618, '(m/s)', 13.5],
        [31, 813, 'zachmurzenie pion. rozciągł. chm.', 14.9], [47, 765, '(km)', 13.5],
        [47, 870, '(oktanty)', 13.5],
        [648, 305, '(°C)', 13.5], [665, 305, 'temperatura', 14.7],
        [648, 408, '(%)', 13.5], [667, 410, 'wilgotność wzgl.', 15.3],
        [648, 513, '(mm Hg)', 13.5], [667, 514, 'ciśnienie', 15.2],
        [648, 617, '(km/h)', 13.5], [667, 617, 'wiatr', 14],
        [648, 765, '(km)', 13.5], [667, 767, 'widzialność', 15.5],
        [648, 869, '(frakcja)', 13.5], [667, 868, 'mgła', 14.5]
    ];
    titles.forEach(t => label(g, t[0] + 4.5, t[1], t[2], {rotate: -90, size: t[3]}));

    [0, 615].forEach(o => {
        label(g, 40 + o, 683, 'N', {size: 15});
        label(g, 49 + o, 693.5, 'E', {size: 15});
        label(g, 36.5 + o, 689, 'W', {size: 15, rotate: -90});
        label(g, 45.5 + o, 698, 'S', {size: 15, rotate: -90});
    });

    label(g, 30, 979, 'meteo-um@icm.edu.pl', {anchor: 'start', size: 16.3, color: blue});
    label(g, 663, 979, '(C) 2007-2014 ICM, Uniwersytet Warszawski', {anchor: 'end', size: 17.2, color: blue});
}

// faint logo behind the lower panels
function drawWatermark(g){
    const logo = g.append('g').attr('opacity', 0.08);
    const curve = d3.line().curve(d3.curveBasis);
    const strokes = [
        [[[233, 433], [157, 433], [130, 453], [125, 480], [128, 500], [150, 553], [173, 587], [200, 610], [233, 610], [267, 590], [287, 567]], 18],
        [[[203, 420], [217, 397], [247, 370], [280, 353], [313, 360], [333, 383], [340, 427]], 13],
        [[[133, 507], [187, 550], [250, 557]], 22],
        [[[310, 500], [287, 547]], 14],
        [[[400, 480], [433, 467], [483, 477]], 14]
    ];
    strokes.forEach(s => {
        logo.append('path').attr('d', curve(s[0])).attr('fill', 'none').attr('stroke', '#000').attr('stroke-width', s[1]);
    });
    logo.append('circle').attr('cx', 267).attr('cy', 440).attr('r', 15);
    logo.append('circle').attr('cx', 352).attr('cy', 525).attr('r', 22).attr('fill', 'none').attr('stroke', '#000').attr('stroke-width', 14);
    [[248, 467, 35, 86], [363, 467, 22, 40], [400, 480, 20, 73], [433, 493, 24, 60]].forEach(r => {
        logo.append('rect').attr('x', r[0]).attr('y', r[1]).attr('width', r[2]).attr('height', r[3]);
    });
}
</script>
</body>
</html>
